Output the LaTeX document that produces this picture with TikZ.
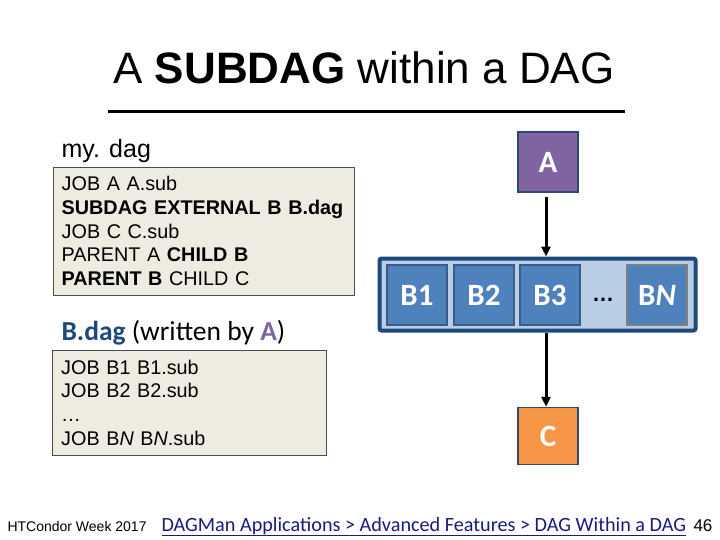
\documentclass[tikz,border=0pt]{standalone}
\usepackage{fontspec}
\setmainfont{Liberation Sans}
\newfontfamily\calfont{Carlito}
\usetikzlibrary{arrows.meta,positioning}

\definecolor{codebg}{HTML}{EEECE1}
\definecolor{darkblue}{HTML}{1F497D}
\definecolor{jobblue}{HTML}{4F81BD}
\definecolor{jobedge}{HTML}{385D8A}
\definecolor{subbg}{HTML}{B9CDE5}
\definecolor{apurple}{HTML}{8064A2}
\definecolor{corange}{HTML}{F79646}
\definecolor{linkblue}{HTML}{1A1A80}

\tikzset{
    codebox/.style={draw=black!70, fill=codebg, anchor=north west, align=left,
        inner sep=0pt, font=\fontsize{19.8}{23.7}\selectfont},
    job/.style={draw=jobedge, line width=1.5pt, fill=jobblue, minimum width=60pt,
        minimum height=60pt, inner sep=0pt, text=white,
        font=\calfont\bfseries\fontsize{31}{34}\selectfont},
    flow/.style={-{Triangle[length=10pt,width=9pt]}, line width=3pt}
}

\begin{document}
\begin{tikzpicture}[x=1pt, y=-1pt]
    \useasboundingbox[fill=white] (0,0) rectangle (720,540);

    % Title
    \node (title) at (364,68) {\fontsize{44}{50}\selectfont A \textbf{SUBDAG} within a DAG};
    \draw[line width=3pt] (108,112) -- (625,112);

    % my.dag file
    \node[anchor=base west, font=\fontsize{25}{28}\selectfont] (mylbl) at (58,158) {my. dag};
    \node[codebox, minimum width=301pt, minimum height=128pt, text width=284pt] (mydag) at (53,167)
        {JOB A A.sub\\
         \textbf{SUBDAG EXTERNAL B B.dag}\\
         JOB C C.sub\\
         PARENT A \textbf{CHILD B}\\
         \textbf{PARENT B} CHILD C};

    % B.dag file
    \node[anchor=base west, font=\calfont\fontsize{27.5}{30}\selectfont] (blbl) at (58,340)
        {\textcolor{darkblue}{\textbf{B.dag}} (written by \textcolor{apurple}{\textbf{A}})};
    \node[codebox, minimum width=274pt, minimum height=105pt, text width=256pt] (bdagfile) at (52,350)
        {JOB B1 B1.sub\\
         JOB B2 B2.sub\\
         \ldots\\
         JOB B\textit{N} B\textit{N}.sub};

    % DAG on the right
    \node[job, fill=apurple, draw=jobedge!80!black] (A) at (548,162) {A};
    \node[draw=darkblue, line width=4pt, fill=subbg, rounded corners=2pt,
        minimum width=316pt, minimum height=72pt] (sub) at (537.5,294.5) {};
    \foreach \name/\x in {B1/417, B2/484, B3/550}
        \node[job] (\name) at (\x,295) {\name};
    \node[job, draw=gray] (BN) at (657,295) {B\textit{N}};
    \node[anchor=base, font=\bfseries\fontsize{22}{24}\selectfont] (dots) at (603,301) {\ldots};
    \node[job, fill=corange, draw=jobedge!80!black, minimum height=57pt] (C) at (548,436) {C};

    \draw[flow] (A.south) ++(-2,4) -- ([xshift=-2pt]A.south |- sub.north);
    \draw[flow] ([xshift=-2pt]A.south |- sub.south) -- ([xshift=-2pt]C.north);

    % Footer
    \node[anchor=base west, font=\fontsize{14}{16}\selectfont] (week) at (4,531) {HTCondor Week 2017};
    \node[anchor=base west, text=linkblue, font=\calfont\fontsize{20.2}{22}\selectfont] (link) at (158,531)
        {\underline{DAGMan Applications > Advanced Features > DAG Within a DAG}};
    \node[anchor=base west, font=\fontsize{17}{18}\selectfont] (page) at (690,531) {46};
\end{tikzpicture}
\end{document}
